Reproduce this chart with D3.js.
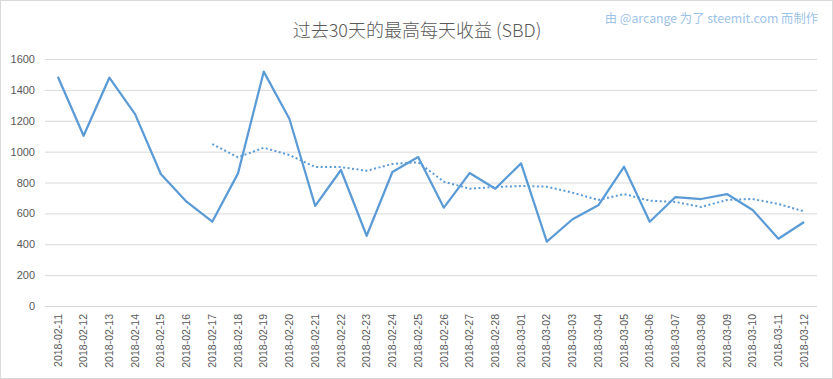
<!DOCTYPE html>
<html><head><meta charset="utf-8">
<script src="https://cdn.jsdelivr.net/npm/d3@7"></script>
<style>body{margin:0;background:#fff}svg{display:block}</style>
</head><body>
<script>
const dates = ["2018-02-11","2018-02-12","2018-02-13","2018-02-14","2018-02-15","2018-02-16","2018-02-17","2018-02-18","2018-02-19","2018-02-20","2018-02-21","2018-02-22","2018-02-23","2018-02-24","2018-02-25","2018-02-26","2018-02-27","2018-02-28","2018-03-01","2018-03-02","2018-03-03","2018-03-04","2018-03-05","2018-03-06","2018-03-07","2018-03-08","2018-03-09","2018-03-10","2018-03-11","2018-03-12"];
const dailyMax = [1485,1103,1479,1243,855,676,546,859,1518,1211,648,881,455,868,965,637,861,760,924,417,562,652,902,546,706,693,725,622,436,544];
const movingAvg = [null,null,null,null,null,null,1049,963,1025,978,900,900,876,920,931,805,760,771,777,773,734,687,725,682,674,641,687,693,661,613];
const yTicks = [0,200,400,600,800,1000,1200,1400,1600];
const titleText = "过去30天的最高每天收益 (SBD)";
const creditText = "由 @arcange 为了 steemit.com 而制作";

const W = 833, H = 379;
const svg = d3.select("body").append("svg").attr("width", W).attr("height", H);
svg.append("rect").attr("x",0.5).attr("y",0.5).attr("width",W-1).attr("height",H-1)
  .attr("fill","#fff").attr("stroke","#d9d9d9");

const m = {left:45, right:16, top:59, bottom:73};
const x = d3.scaleBand().domain(dates).range([m.left, W-m.right]);
const y = d3.scaleLinear().domain([0,1600]).range([H-m.bottom, m.top]);

const yAxis = d3.axisLeft(y).tickValues(yTicks).tickFormat(d3.format("d"))
  .tickSize(-(W-m.left-m.right)).tickPadding(10);
const gy = svg.append("g").attr("transform",`translate(${m.left},0)`).call(yAxis);
gy.select(".domain").remove();
gy.selectAll(".tick line").attr("stroke","#d9d9d9").attr("stroke-width",1);
gy.selectAll(".tick text").attr("fill","#595959").style("font-family","'Liberation Sans', Arial, sans-serif").style("font-size","11px");

const xAxis = d3.axisBottom(x).tickSize(0).tickPadding(0);
const gx = svg.append("g").attr("transform",`translate(0,${H-m.bottom})`).call(xAxis);
gx.select(".domain").remove();
gx.selectAll(".tick text")
  .attr("fill","#595959").style("font-family","'Liberation Sans', Arial, sans-serif").style("font-size","10.5px")
  .attr("transform","rotate(-90)").attr("text-anchor","end").attr("x",-8).attr("y",0).attr("dy","0.35em");

const cx = d => x(d) + x.bandwidth()/2;
const line = d3.line().defined(d => d[1] != null).x(d => cx(d[0])).y(d => y(d[1]));

svg.append("path").datum(dates.map((d,i)=>[d, movingAvg[i]]))
  .attr("d", line).attr("fill","none").attr("stroke","#5B9BD5").attr("stroke-width",2)
  .attr("stroke-dasharray","2,2.5");

svg.append("path").datum(dates.map((d,i)=>[d, dailyMax[i]]))
  .attr("d", line).attr("fill","none").attr("stroke","#5B9BD5").attr("stroke-width",2.25)
  .attr("stroke-linejoin","round");

svg.append("text").attr("x",417).attr("y",37).attr("text-anchor","middle")
  .attr("fill","#595959").style("font-family","'Noto Sans CJK SC', sans-serif").style("font-weight",300)
  .style("font-size","18px").text(titleText);

svg.append("text").attr("x",818).attr("y",23).attr("text-anchor","end")
  .attr("fill","#9DC3E6").style("font-family","'Noto Sans CJK SC', sans-serif")
  .style("font-size","12.3px").text(creditText);
</script>
</body></html>
